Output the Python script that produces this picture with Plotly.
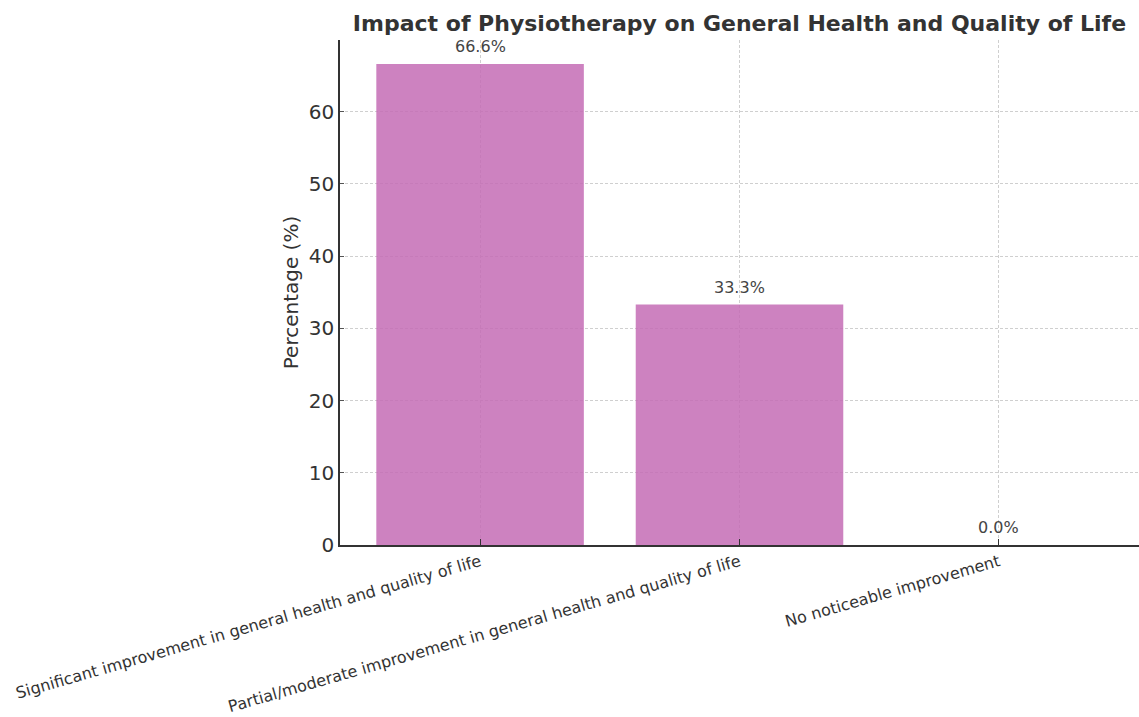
import plotly.graph_objects as go

categories = [
    "Significant improvement in general health and quality of life",
    "Partial/moderate improvement in general health and quality of life",
    "No noticeable improvement",
]
percentages = [66.6, 33.3, 0.0]
value_labels = ["66.6%", "33.3%", "0.0%"]

bar_color = "rgba(196,108,181,0.85)"
text_color = "#333333"
grid_color = "#cfcfcf"

fig = go.Figure()
fig.add_trace(go.Bar(
    x=categories,
    y=percentages,
    marker=dict(color=bar_color, line=dict(width=0)),
    width=0.8,
    hoverinfo="x+y",
))

for cat, val, lab in zip(categories, percentages, value_labels):
    fig.add_annotation(
        x=cat, y=val, text=lab, showarrow=False,
        xanchor="center", yanchor="bottom", yshift=6,
        font=dict(family="DejaVu Sans", size=16, color="#444444"),
    )

fig.update_layout(
    width=1139, height=717,
    margin=dict(l=340, r=0, t=40, b=172),
    paper_bgcolor="white", plot_bgcolor="white",
    font=dict(family="DejaVu Sans", color=text_color),
    title=dict(
        text="<b>Impact of Physiotherapy on General Health and Quality of Life</b>",
        x=0.5, xref="paper", xanchor="center",
        y=0.968, yref="container", yanchor="middle",
        font=dict(family="DejaVu Sans", size=22, color=text_color),
    ),
    showlegend=False,
)

fig.update_xaxes(
    range=[-0.54, 2.54],
    showline=True, linecolor="#333333", linewidth=1.5,
    showgrid=True, gridcolor=grid_color, griddash="3px,2px", gridwidth=1,
    ticks="inside", ticklen=6, tickcolor="#333333",
    tickangle=-16,
    tickfont=dict(family="DejaVu Sans", size=16, color=text_color),
    layer="above traces",
)
fig.update_yaxes(
    range=[0, 69.93],
    tickvals=[0, 10, 20, 30, 40, 50, 60],
    showline=True, linecolor="#333333", linewidth=1.5,
    showgrid=True, gridcolor=grid_color, griddash="3px,2px", gridwidth=1,
    ticks="inside", ticklen=4, tickcolor="#555555",
    tickfont=dict(family="DejaVu Sans", size=20, color=text_color),
    title=dict(text="Percentage (%)", font=dict(family="DejaVu Sans", size=20, color=text_color), standoff=5),
    zeroline=False,
    layer="above traces",
)

fig.write_html("out.html")
